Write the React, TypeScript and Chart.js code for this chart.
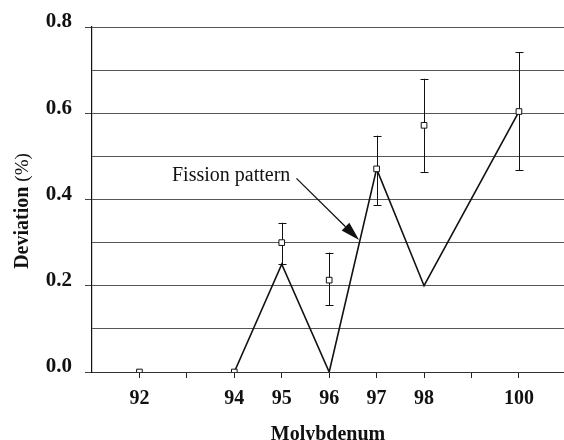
import React, { useEffect, useRef } from 'react';
import { Chart, registerables } from 'chart.js';

Chart.register(...registerables);

// ---- data ----
const isotopes = [92, 94, 95, 96, 97, 98, 100];
const deviation = [0.0, 0.0, 0.3, 0.213, 0.471, 0.572, 0.604];
const errLow = [0.0, 0.0, 0.25, 0.155, 0.387, 0.464, 0.468];
const errHigh = [0.0, 0.0, 0.346, 0.277, 0.548, 0.68, 0.741];
const fissionX = [94, 95, 96, 97, 98, 100];
const fissionY = [0.0, 0.25, 0.0, 0.471, 0.2, 0.604];
const xTickLabels = [92, 94, 95, 96, 97, 98, 100];
const yTickLabels = [0.0, 0.2, 0.4, 0.6, 0.8];
const xTitle = 'Molybdenum';
const yTitleMain = 'Deviation';
const yTitleUnit = '(%)';
const annotationText = 'Fission pattern';

const SERIF = '"Liberation Serif", "Times New Roman", serif';

const errorBarPlugin = {
  id: 'errorBars',
  beforeDatasetsDraw(chart: any) {
    const { ctx, scales } = chart;
    const xs = scales.x;
    const ys = scales.y;
    ctx.save();
    ctx.strokeStyle = '#111';
    ctx.lineWidth = 1;
    for (let i = 0; i < isotopes.length; i++) {
      if (errHigh[i] === errLow[i]) continue;
      const px = Math.round(xs.getPixelForValue(isotopes[i])) + 0.5;
      const top = ys.getPixelForValue(errHigh[i]);
      const bot = ys.getPixelForValue(errLow[i]);
      ctx.beginPath();
      ctx.moveTo(px, top);
      ctx.lineTo(px, bot);
      ctx.moveTo(px - 4, Math.round(top) + 0.5);
      ctx.lineTo(px + 4, Math.round(top) + 0.5);
      ctx.moveTo(px - 4, Math.round(bot) + 0.5);
      ctx.lineTo(px + 4, Math.round(bot) + 0.5);
      ctx.stroke();
    }
    ctx.restore();
  },
};

const textPlugin = {
  id: 'textAnnotations',
  afterDraw(chart: any) {
    const { ctx, scales, chartArea } = chart;
    const xs = scales.x;
    const ys = scales.y;
    ctx.save();
    // annotation text
    ctx.fillStyle = '#111';
    ctx.font = `20px ${SERIF}`;
    ctx.textAlign = 'right';
    ctx.textBaseline = 'alphabetic';
    ctx.fillText(annotationText, xs.getPixelForValue(95.18), ys.getPixelForValue(0.443));
    // arrow
    const x0 = xs.getPixelForValue(95.31);
    const y0 = ys.getPixelForValue(0.449);
    const x1 = xs.getPixelForValue(96.63);
    const y1 = ys.getPixelForValue(0.306);
    const ang = Math.atan2(y1 - y0, x1 - x0);
    const headLen = 19;
    const headW = 5.5;
    const bx = x1 - headLen * Math.cos(ang);
    const by = y1 - headLen * Math.sin(ang);
    ctx.strokeStyle = '#111';
    ctx.lineWidth = 1.3;
    ctx.beginPath();
    ctx.moveTo(x0, y0);
    ctx.lineTo(bx, by);
    ctx.stroke();
    ctx.beginPath();
    ctx.moveTo(x1, y1);
    ctx.lineTo(bx + headW * Math.sin(ang), by - headW * Math.cos(ang));
    ctx.lineTo(bx - headW * Math.sin(ang), by + headW * Math.cos(ang));
    ctx.closePath();
    ctx.fill();

    // x title
    ctx.font = `bold 20px ${SERIF}`;
    ctx.textAlign = 'center';
    ctx.fillText(xTitle, (chartArea.left + chartArea.right) / 2, 440);

    // y title (rotated)
    ctx.translate(23, 211);
    ctx.rotate(-Math.PI / 2);
    ctx.textBaseline = 'middle';
    ctx.font = `bold 20px ${SERIF}`;
    const w1 = ctx.measureText(yTitleMain + ' ').width;
    ctx.font = `19px ${SERIF}`;
    const w2 = ctx.measureText(yTitleUnit).width;
    const start = -(w1 + w2) / 2;
    ctx.textAlign = 'left';
    ctx.font = `bold 20px ${SERIF}`;
    ctx.fillText(yTitleMain + ' ', start, 0);
    ctx.font = `19px ${SERIF}`;
    ctx.fillText(yTitleUnit, start + w1, 0);
    ctx.restore();
  },
};

export default function App() {
  const ref = useRef<HTMLCanvasElement | null>(null);

  useEffect(() => {
    document.body.style.margin = '0';
    document.body.style.overflow = 'hidden';
    const canvas = ref.current;
    if (!canvas) return;
    const chart = new Chart(canvas, {
      type: 'scatter',
      data: {
        datasets: [
          {
            type: 'line',
            label: 'Fission pattern',
            data: fissionX.map((x, i) => ({ x, y: fissionY[i] })),
            borderColor: '#111',
            borderWidth: 1.6,
            pointRadius: 0,
            fill: false,
            tension: 0,
            order: 2,
          } as any,
          {
            type: 'scatter',
            label: 'Measured',
            data: isotopes.map((x, i) => ({ x, y: deviation[i] })),
            pointStyle: 'rect',
            pointRadius: 4,
            backgroundColor: '#fff',
            borderColor: '#111',
            borderWidth: 1,
            order: 1,
          },
        ],
      },
      options: {
        animation: false,
        responsive: false,
        devicePixelRatio: 1,
        layout: { autoPadding: false, padding: { top: 27, right: 0, left: 0, bottom: 0 } },
        plugins: {
          legend: { display: false },
          tooltip: { enabled: false },
        },
        scales: {
          x: {
            type: 'linear',
            min: 91,
            max: 100.95,
            afterBuildTicks: (scale: any) => {
              const t = [];
              for (let v = 92; v <= 100; v++) t.push({ value: v });
              scale.ticks = t;
            },
            afterFit: (scale: any) => {
              scale.height = 68;
            },
            grid: {
              drawOnChartArea: false,
              drawTicks: true,
              tickLength: 6,
              tickColor: '#222',
            },
            border: { display: true, color: '#333', width: 1 },
            ticks: {
              autoSkip: false,
              maxRotation: 0,
              padding: 9,
              color: '#111',
              font: { family: SERIF, size: 20, weight: 'bold' },
              callback: (v: any) => (xTickLabels.includes(Number(v)) ? String(v) : ''),
            },
          },
          y: {
            type: 'linear',
            min: 0,
            max: 0.8,
            afterBuildTicks: (scale: any) => {
              const t = [];
              for (let k = 0; k <= 8; k++) t.push({ value: k / 10 });
              scale.ticks = t;
            },
            afterFit: (scale: any) => {
              scale.width = 92;
            },
            grid: {
              color: '#555',
              lineWidth: 1,
              drawTicks: true,
              tickLength: 7,
              tickColor: (c: any) =>
                Math.round(c.tick.value * 10) % 2 === 0 ? '#444' : 'rgba(0,0,0,0)',
            },
            border: { display: true, color: '#111', width: 1.2 },
            ticks: {
              padding: 13,
              labelOffset: -5,
              color: '#111',
              font: { family: SERIF, size: 21, weight: 'bold' },
              callback: (v: any) => {
                const n = Math.round(Number(v) * 10) / 10;
                return yTickLabels.some((t) => Math.abs(t - n) < 1e-9) ? n.toFixed(1) : '';
              },
            },
          },
        },
      },
      plugins: [errorBarPlugin, textPlugin],
    } as any);
    return () => chart.destroy();
  }, []);

  return <canvas ref={ref} width={564} height={440} style={{ display: 'block' }} />;
}
